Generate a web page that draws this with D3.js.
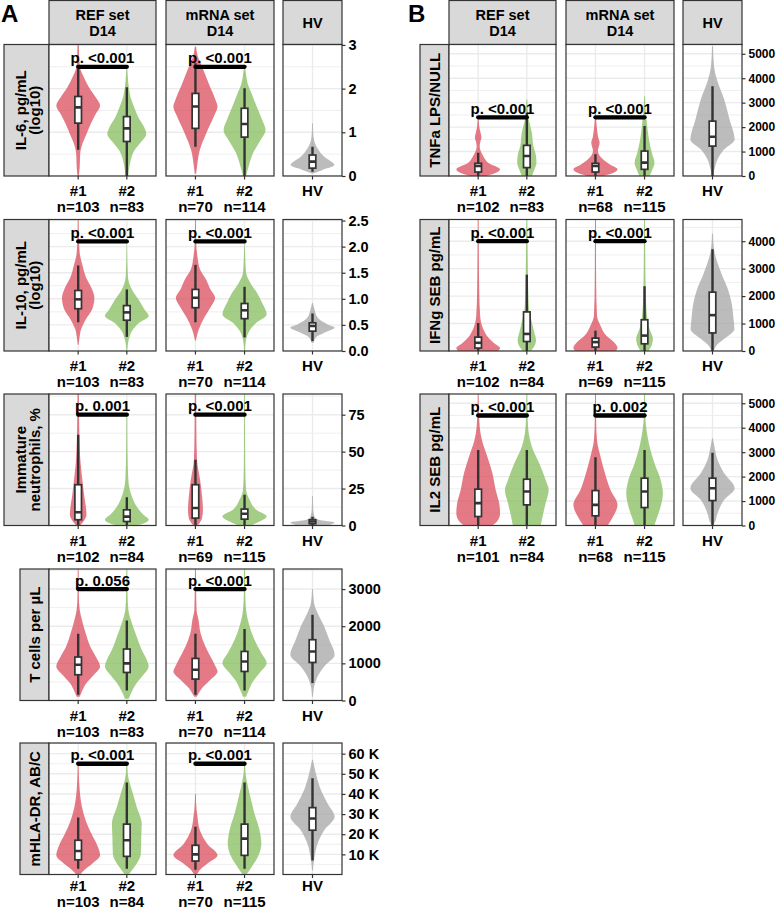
<!DOCTYPE html>
<html>
<head>
<meta charset="utf-8">
<script src="https://cdn.jsdelivr.net/npm/d3@7"></script>
<style>
body { margin: 0; background: #fff; }
text { font-family: "Liberation Sans", Arial, Helvetica, sans-serif; font-weight: bold; fill: #000; }
</style>
</head>
<body>
<div id="chart"></div>
<script>
// categories
var groups = ["#1", "#2"];
var hvGroup = ["HV"];
var facetTitles = [["REF set", "D14"], ["mRNA set", "D14"], ["HV"]];

// Violin profiles are [value, relative half width]; boxes are [low, q1, median, q3, high].
// Order in each list: REF #1, REF #2, mRNA #1, mRNA #2, HV.

// IL-6, pg/mL (log10)
var il6Ticks = [0, 1, 2, 3];
var il6N = ["n=103", "n=83", "n=70", "n=114"];
var il6P = ["p. <0.001", "p. <0.001"];
var il6PBar = 2.5;
var il6Boxes = [[0.6, 1.21, 1.57, 1.82, 2.45], [0, 0.79, 1.09, 1.36, 2.03],
                [0.67, 1.09, 1.59, 1.89, 2.58], [0, 0.89, 1.19, 1.55, 2.01],
                [0.1, 0.18, 0.33, 0.48, 0.67]];
var il6Violins = [
    [[0, 0.03], [0.2, 0.07], [0.5, 0.09], [0.73, 0.19], [0.96, 0.38], [1.19, 0.57], [1.42, 0.8], [1.61, 1.0], [1.8, 0.8], [2.03, 0.49], [2.26, 0.26], [2.43, 0.11], [2.6, 0.06], [3.0, 0.03]],
    [[0, 0.07], [0.12, 0.09], [0.35, 0.17], [0.58, 0.34], [0.77, 0.64], [0.96, 0.89], [1.11, 0.8], [1.34, 0.53], [1.57, 0.34], [1.8, 0.17], [2.03, 0.09], [2.3, 0.04], [2.45, 0.02]],
    [[0.05, 0.03], [0.21, 0.07], [0.6, 0.2], [0.98, 0.49], [1.36, 0.83], [1.59, 1.0], [1.74, 0.91], [2.12, 0.6], [2.5, 0.3], [2.75, 0.1], [2.96, 0.03]],
    [[0, 0.07], [0.21, 0.18], [0.52, 0.38], [0.82, 0.72], [1.05, 0.95], [1.28, 0.8], [1.59, 0.55], [1.89, 0.32], [2.12, 0.14], [2.35, 0.06], [2.5, 0.02]],
    [[0.06, 0.03], [0.14, 0.45], [0.25, 0.99], [0.44, 0.53], [0.63, 0.23], [0.82, 0.07], [1.0, 0.03], [1.21, 0.02]]
];

// IL-10, pg/mL (log10)
var il10Ticks = [0, 0.5, 1, 1.5, 2, 2.5];
var il10N = ["n=103", "n=83", "n=70", "n=114"];
var il10P = ["p. <0.001", "p. <0.001"];
var il10PBar = 2.1;
var il10Boxes = [[0.55, 0.81, 0.99, 1.16, 1.64], [0.27, 0.59, 0.74, 0.87, 1.18],
                 [0.55, 0.83, 1.02, 1.18, 1.65], [0.26, 0.62, 0.78, 0.91, 1.23],
                 [0.19, 0.38, 0.48, 0.54, 0.72]];
var il10Violins = [
    [[0.12, 0.02], [0.22, 0.05], [0.41, 0.13], [0.6, 0.34], [0.8, 0.64], [1.02, 0.74], [1.24, 0.57], [1.43, 0.34], [1.62, 0.21], [1.88, 0.07], [2.2, 0.03], [2.52, 0.02]],
    [[0, 0.02], [0.22, 0.09], [0.38, 0.23], [0.54, 0.57], [0.67, 1.0], [0.8, 0.8], [0.99, 0.53], [1.18, 0.23], [1.43, 0.05], [1.8, 0.02], [2.1, 0.01]],
    [[0.2, 0.02], [0.26, 0.05], [0.41, 0.15], [0.64, 0.4], [0.83, 0.67], [1.02, 0.89], [1.18, 0.68], [1.37, 0.48], [1.56, 0.21], [1.81, 0.09], [2.1, 0.03], [2.52, 0.02]],
    [[0, 0.02], [0.22, 0.07], [0.38, 0.21], [0.54, 0.53], [0.7, 1.0], [0.92, 0.8], [1.11, 0.57], [1.31, 0.26], [1.5, 0.07], [1.8, 0.03], [2.2, 0.01]],
    [[0.16, 0.05], [0.26, 0.15], [0.35, 0.53], [0.45, 1.0], [0.51, 0.68], [0.64, 0.23], [0.8, 0.09], [0.92, 0.02]]
];

// Immature neutrophils, %
var neuTicks = [0, 25, 50, 75];
var neuN = ["n=102", "n=84", "n=69", "n=115"];
var neuP = ["p. 0.001", "p. <0.001"];
var neuPBar = 75;
var neuBoxes = [[0, 3.9, 9, 27.6, 61.4], [0, 2.7, 6, 10.6, 19.2],
                [0, 5, 11.8, 27.6, 44.5], [0, 4.3, 8, 11.1, 20.8],
                [0, 1.2, 2.7, 3.9, 6]];
var neuViolins = [
    [[0, 0.09], [2.7, 0.24], [7.2, 0.38], [12.9, 0.35], [19.7, 0.28], [31, 0.19], [42.3, 0.11], [64.8, 0.05], [92, 0.03]],
    [[0, 0.36], [1.2, 0.73], [3.9, 1.0], [7.2, 0.76], [12.9, 0.45], [19.7, 0.23], [31, 0.07], [50, 0.03], [75, 0.02]],
    [[0, 0.09], [1.6, 0.18], [5, 0.3], [10.6, 0.34], [19.7, 0.3], [31, 0.21], [44.5, 0.07], [65, 0.04], [92, 0.03]],
    [[0, 0.27], [2.7, 0.68], [6.1, 1.0], [10.6, 0.53], [17.4, 0.23], [24.2, 0.07], [40, 0.03], [75, 0.02], [92, 0.02]],
    [[0, 0.68], [2, 1.0], [3.9, 0.27], [6.1, 0.09], [12, 0.03], [20, 0.02]]
];

// T cells per µL
var tcTicks = [0, 1000, 2000, 3000];
var tcN = ["n=103", "n=83", "n=70", "n=114"];
var tcP = ["p. 0.056", "p. <0.001"];
var tcPBar = 3000;
var tcBoxes = [[154, 693, 962, 1170, 1798], [270, 755, 1000, 1385, 2156],
               [154, 577, 827, 1132, 1798], [270, 782, 1051, 1321, 1924],
               [469, 1024, 1321, 1636, 2310]];
var tcViolins = [
    [[100, 0.07], [243, 0.17], [469, 0.38], [693, 0.72], [916, 1.0], [1186, 0.8], [1456, 0.55], [1817, 0.34], [2175, 0.17], [2445, 0.07], [2800, 0.03], [3540, 0.02]],
    [[50, 0.09], [243, 0.23], [469, 0.45], [693, 0.76], [916, 1.0], [1097, 0.91], [1367, 0.68], [1725, 0.45], [2086, 0.23], [2445, 0.07], [2900, 0.03], [3540, 0.02]],
    [[100, 0.05], [154, 0.11], [334, 0.3], [558, 0.68], [782, 1.0], [916, 0.91], [1186, 0.68], [1456, 0.45], [1817, 0.23], [2175, 0.14], [2445, 0.05], [3000, 0.03], [3540, 0.02]],
    [[100, 0.07], [288, 0.2], [512, 0.38], [739, 0.68], [1008, 1.0], [1278, 0.76], [1636, 0.45], [1995, 0.23], [2445, 0.07], [2900, 0.03], [3540, 0.02]],
    [[100, 0.02], [423, 0.09], [647, 0.23], [916, 0.53], [1232, 1.0], [1636, 0.76], [1995, 0.53], [2356, 0.23], [2625, 0.07], [3000, 0.02]]
];

// mHLA-DR, AB/C
var hlaTicks = [10000, 20000, 30000, 40000, 50000, 60000];
var hlaN = ["n=103", "n=84", "n=70", "n=115"];
var hlaP = ["p. <0.001", "p. <0.001"];
var hlaPBar = 55000;
var hlaBoxes = [[2800, 7300, 11700, 17000, 28300], [2800, 9000, 17000, 25000, 45700],
                [2300, 6700, 10000, 14500, 23700], [2800, 9500, 17800, 25000, 45700],
                [7000, 22000, 27800, 33200, 47800]];
var hlaViolins = [
    [[0, 0.09], [2000, 0.26], [5300, 0.64], [9500, 1.0], [14500, 0.87], [20300, 0.6], [27000, 0.34], [33700, 0.17], [42000, 0.07], [50000, 0.03], [56000, 0.02]],
    [[0, 0.09], [2000, 0.23], [5300, 0.45], [10300, 0.64], [18700, 0.66], [25300, 0.68], [33700, 0.45], [42000, 0.23], [47000, 0.09], [52000, 0.03], [56000, 0.02]],
    [[0, 0.07], [2000, 0.18], [5300, 0.53], [9500, 1.0], [15300, 0.53], [22000, 0.2], [28700, 0.09], [35300, 0.03], [40000, 0.02]],
    [[0, 0.09], [3700, 0.32], [8700, 0.6], [15300, 0.76], [22000, 0.68], [30300, 0.45], [38700, 0.26], [47000, 0.09], [52000, 0.03], [56000, 0.02]],
    [[2000, 0.02], [8700, 0.09], [15300, 0.23], [22000, 0.53], [28700, 1.0], [35300, 0.68], [42000, 0.38], [50300, 0.15], [57000, 0.02]]
];

// TNFa LPS/NULL
var tnfTicks = [0, 1000, 2000, 3000, 4000, 5000];
var tnfN = ["n=102", "n=83", "n=68", "n=115"];
var tnfP = ["p. <0.001", "p. <0.001"];
var tnfPBar = 2400;
var tnfBoxes = [[0, 163, 408, 518, 955], [0, 343, 816, 1253, 2588],
                [0, 163, 408, 518, 886], [0, 273, 547, 1020, 2041],
                [0, 1224, 1608, 2245, 3673]];
var tnfViolins = [
    [[0, 0.36], [69, 0.64], [273, 1.0], [547, 0.45], [816, 0.23], [1050, 0.1], [1224, 0.07], [1400, 0.1], [1567, 0.15], [1771, 0.11], [2000, 0.05], [2450, 0.02]],
    [[0, 0.23], [273, 0.35], [547, 0.44], [816, 0.42], [1224, 0.3], [1771, 0.23], [2314, 0.09], [2800, 0.04], [3131, 0.02]],
    [[0, 0.36], [69, 0.64], [273, 1.0], [478, 0.64], [682, 0.34], [1020, 0.11], [1363, 0.19], [1600, 0.12], [1771, 0.09], [2200, 0.04], [2588, 0.02]],
    [[0, 0.23], [273, 0.36], [547, 0.45], [955, 0.33], [1498, 0.2], [2314, 0.09], [2800, 0.04], [3265, 0.02]],
    [[0, 0.02], [273, 0.09], [682, 0.23], [1090, 0.53], [1498, 1.0], [2314, 0.77], [3131, 0.53], [3947, 0.2], [4490, 0.07], [5306, 0.02]]
];

// IFNg SEB pg/mL
var ifnTicks = [0, 1000, 2000, 3000, 4000];
var ifnN = ["n=102", "n=84", "n=69", "n=115"];
var ifnP = ["p. <0.001", "p. <0.001"];
var ifnPBar = 4000;
var ifnBoxes = [[0, 108, 299, 504, 1018], [0, 345, 622, 1424, 2781],
                [0, 144, 324, 468, 741], [0, 263, 561, 1137, 2360],
                [0, 658, 1306, 2144, 3705]];
var ifnViolins = [
    [[0, 0.91], [108, 1.0], [263, 0.76], [504, 0.45], [802, 0.23], [1281, 0.09], [2122, 0.05], [3500, 0.03], [4790, 0.02]],
    [[0, 0.18], [144, 0.32], [381, 0.42], [683, 0.34], [1043, 0.23], [1640, 0.09], [2842, 0.05], [4000, 0.03], [4790, 0.02]],
    [[0, 0.91], [108, 1.0], [324, 0.83], [561, 0.49], [921, 0.23], [1281, 0.07], [2500, 0.03], [4790, 0.02]],
    [[0, 0.18], [201, 0.32], [442, 0.38], [802, 0.23], [1281, 0.11], [2241, 0.05], [3500, 0.03], [4790, 0.02]],
    [[0, 0.05], [201, 0.18], [442, 0.53], [802, 0.99], [1162, 0.95], [1763, 0.86], [2241, 0.7], [2719, 0.45], [3201, 0.23], [3680, 0.07], [4281, 0.02]]
];

// IL2 SEB pg/mL
var il2Ticks = [0, 1000, 2000, 3000, 4000, 5000];
var il2N = ["n=101", "n=84", "n=68", "n=115"];
var il2P = ["p. <0.001", "p. 0.002"];
var il2PBar = 4500;
var il2Boxes = [[0, 367, 914, 1486, 3090], [0, 845, 1388, 1893, 3090],
                [0, 396, 845, 1429, 2790], [0, 735, 1388, 1935, 3090],
                [0, 1020, 1527, 1935, 2980]];
var il2Violins = [
    [[0, 0.64], [163, 0.86], [506, 1.0], [914, 0.96], [1457, 0.8], [2139, 0.65], [2816, 0.42], [3498, 0.17], [4041, 0.07], [4800, 0.03], [5380, 0.02]],
    [[0, 0.64], [367, 0.72], [914, 0.86], [1457, 1.0], [1865, 0.86], [2547, 0.57], [3224, 0.23], [3771, 0.09], [4300, 0.04], [5380, 0.02]],
    [[0, 0.55], [367, 0.8], [845, 1.0], [1457, 0.68], [2139, 0.43], [2816, 0.23], [3498, 0.07], [4300, 0.03], [5380, 0.02]],
    [[0, 0.45], [233, 0.53], [776, 0.73], [1322, 0.83], [1865, 0.73], [2547, 0.45], [3224, 0.23], [3906, 0.09], [4500, 0.03], [5380, 0.02]],
    [[0, 0.02], [98, 0.09], [506, 0.23], [1049, 0.53], [1527, 1.0], [2139, 0.53], [2682, 0.23], [3224, 0.09], [3567, 0.02]]
];

// layout
var width = 784, height = 910;
var panelX = [[49, 156], [166, 274], [283, 342]];
var rowTop = [44.5, 219.5, 394, 569, 743];
var panelH = 131.5;
var fills = ["#DB4E5C", "#86BE5E", "#A6A6A6"];
var lineCol = "#333333";
var gridCol = "#EBEBEB";

var intFmt = d3.format("d");
var rows = [
    {col: 0, row: 0, label: ["IL-6, pg/mL", "(log10)"], domain: [0, 3.01], ticks: il6Ticks, fmt: intFmt,
     violins: il6Violins, boxes: il6Boxes, n: il6N, p: il6P, pBar: il6PBar},
    {col: 0, row: 1, label: ["IL-10, pg/mL", "(log10)"], domain: [0, 2.52], ticks: il10Ticks, fmt: d3.format(".1f"),
     violins: il10Violins, boxes: il10Boxes, n: il10N, p: il10P, pBar: il10PBar},
    {col: 0, row: 2, label: ["Immature", "neutrophils, %"], domain: [0, 89], ticks: neuTicks, fmt: intFmt,
     violins: neuViolins, boxes: neuBoxes, n: neuN, p: neuP, pBar: neuPBar},
    {col: 0, row: 3, label: ["T cells per µL"], domain: [0, 3540], ticks: tcTicks, fmt: intFmt,
     violins: tcViolins, boxes: tcBoxes, n: tcN, p: tcP, pBar: tcPBar},
    {col: 0, row: 4, label: ["mHLA-DR, AB/C"], domain: [0, 65300], ticks: hlaTicks, fmt: function(d) { return (d / 1000) + " K"; },
     violins: hlaViolins, boxes: hlaBoxes, n: hlaN, p: hlaP, pBar: hlaPBar},
    {col: 1, row: 0, label: ["TNFa LPS/NULL"], domain: [0, 5380], ticks: tnfTicks, fmt: intFmt,
     violins: tnfViolins, boxes: tnfBoxes, n: tnfN, p: tnfP, pBar: tnfPBar},
    {col: 1, row: 1, label: ["IFNg SEB pg/mL"], domain: [0, 4790], ticks: ifnTicks, fmt: intFmt,
     violins: ifnViolins, boxes: ifnBoxes, n: ifnN, p: ifnP, pBar: ifnPBar},
    {col: 1, row: 2, label: ["IL2 SEB pg/mL"], domain: [0, 5380], ticks: il2Ticks, fmt: intFmt,
     violins: il2Violins, boxes: il2Boxes, n: il2N, p: il2P, pBar: il2PBar}
];

var svg = d3.select("#chart").append("svg")
    .attr("width", width)
    .attr("height", height);

svg.append("text").attr("x", 1).attr("y", 22).style("font-size", "24px").text("A");
svg.append("text").attr("x", 408).attr("y", 22).style("font-size", "24px").text("B");

function minor_breaks(ticks, domain) {
    var step = ticks[1] - ticks[0];
    var out = [];
    for (var v = ticks[0] - step / 2; v <= domain[1]; v += step) {
        if (v >= domain[0]) out.push(v);
    }
    return out;
}

function draw_row(row, ri) {
    var g = svg.append("g").attr("transform", "translate(" + (row.col * 400) + ",0)");
    var top = rowTop[row.row];
    var bottom = top + panelH;
    var y = d3.scaleLinear().domain(row.domain).range([bottom, top]);

    // row strip on the left
    var twoLines = row.label.length > 1;
    var stripL = twoLines ? 4 : 20;
    g.append("rect")
        .attr("x", stripL).attr("y", top)
        .attr("width", panelX[0][0] - stripL).attr("height", panelH)
        .attr("fill", "#D9D9D9").attr("stroke", lineCol).attr("stroke-width", 1.2);
    var cy = (top + bottom) / 2;
    row.label.forEach(function(line, li) {
        var bx = twoLines ? 25.5 + li * 14.5 : 40;
        g.append("text")
            .attr("transform", "translate(" + bx + "," + cy + ") rotate(-90)")
            .attr("text-anchor", "middle")
            .style("font-size", "15px")
            .text(line);
    });

    facetTitles.forEach(function(title, fi) {
        var cats = fi < 2 ? groups : hvGroup;
        var x = d3.scalePoint().domain(cats).range(panelX[fi]).padding(0.6);
        var half = 0.45 * x.step();
        var x0 = panelX[fi][0], x1 = panelX[fi][1];

        // facet header on the first row
        if (row.row === 0) {
            g.append("rect")
                .attr("x", x0).attr("y", 0.5)
                .attr("width", x1 - x0).attr("height", top - 0.5)
                .attr("fill", "#D9D9D9").attr("stroke", lineCol).attr("stroke-width", 1.2);
            title.forEach(function(line, li) {
                g.append("text")
                    .attr("x", (x0 + x1) / 2)
                    .attr("y", title.length > 1 ? 20 + li * 15.5 : 27.5)
                    .attr("text-anchor", "middle")
                    .style("font-size", "14.5px")
                    .text(line);
            });
        }

        var clipId = "clip-" + ri + "-" + fi;
        g.append("clipPath").attr("id", clipId)
            .append("rect")
            .attr("x", x0).attr("y", top)
            .attr("width", x1 - x0).attr("height", panelH);

        g.append("rect")
            .attr("x", x0).attr("y", top)
            .attr("width", x1 - x0).attr("height", panelH)
            .attr("fill", "#fff");

        var inner = g.append("g").attr("clip-path", "url(#" + clipId + ")");

        // grid
        inner.selectAll(".minor")
            .data(minor_breaks(row.ticks, row.domain))
            .enter().append("line")
            .attr("x1", x0).attr("x2", x1)
            .attr("y1", y).attr("y2", y)
            .attr("stroke", gridCol).attr("stroke-width", 0.8);
        inner.selectAll(".major")
            .data(row.ticks)
            .enter().append("line")
            .attr("x1", x0).attr("x2", x1)
            .attr("y1", y).attr("y2", y)
            .attr("stroke", gridCol).attr("stroke-width", 1.4);
        inner.selectAll(".vgrid")
            .data(cats)
            .enter().append("line")
            .attr("x1", x).attr("x2", x)
            .attr("y1", top).attr("y2", bottom)
            .attr("stroke", gridCol).attr("stroke-width", 1.4);

        // violins and boxes
        cats.forEach(function(c, ci) {
            var k = fi < 2 ? fi * 2 + ci : 4;
            var cx = x(c);
            var colour = fi < 2 ? fills[ci] : fills[2];
            var area = d3.area()
                .curve(d3.curveMonotoneY)
                .y(function(d) { return y(d[0]); })
                .x0(function(d) { return cx - d[1] * half; })
                .x1(function(d) { return cx + d[1] * half; });
            inner.append("path")
                .attr("d", area(row.violins[k]))
                .attr("fill", colour)
                .attr("fill-opacity", 0.75);

            var b = row.boxes[k];
            var bw = 3.3;
            inner.append("line")
                .attr("x1", cx).attr("x2", cx)
                .attr("y1", y(b[0])).attr("y2", y(b[4]))
                .attr("stroke", lineCol).attr("stroke-width", 2.4);
            inner.append("rect")
                .attr("x", cx - bw).attr("y", y(b[3]))
                .attr("width", bw * 2).attr("height", y(b[1]) - y(b[3]))
                .attr("fill", "#fff").attr("stroke", lineCol).attr("stroke-width", 1.7);
            inner.append("line")
                .attr("x1", cx - bw).attr("x2", cx + bw)
                .attr("y1", y(b[2])).attr("y2", y(b[2]))
                .attr("stroke", lineCol).attr("stroke-width", 2.6);
        });

        // p-value bracket
        if (fi < 2) {
            inner.append("line")
                .attr("x1", x(groups[0])).attr("x2", x(groups[1]))
                .attr("y1", y(row.pBar)).attr("y2", y(row.pBar))
                .attr("stroke", "#000").attr("stroke-width", 4.3)
                .attr("stroke-linecap", "round");
            g.append("text")
                .attr("x", (x(groups[0]) + x(groups[1])) / 2)
                .attr("y", y(row.pBar) - 3.5)
                .attr("text-anchor", "middle")
                .style("font-size", "15px")
                .text(row.p[fi]);
        }

        g.append("rect")
            .attr("x", x0).attr("y", top)
            .attr("width", x1 - x0).attr("height", panelH)
            .attr("fill", "none").attr("stroke", lineCol).attr("stroke-width", 1.2);

        // x axis
        var nY = Math.min(36, height - 3.5 - bottom);
        var xl = g.selectAll(".xl" + fi)
            .data(cats)
            .enter().append("g")
            .attr("transform", function(d) { return "translate(" + x(d) + "," + bottom + ")"; });
        xl.append("line")
            .attr("y1", 0).attr("y2", 3.5)
            .attr("stroke", lineCol).attr("stroke-width", 1.2);
        xl.append("text")
            .attr("y", nY - 16)
            .attr("text-anchor", "middle")
            .style("font-size", "15px")
            .text(function(d) { return d; });
        if (fi < 2) {
            xl.append("text")
                .attr("y", nY)
                .attr("text-anchor", "middle")
                .style("font-size", "15px")
                .text(function(d, i) { return row.n[fi * 2 + i]; });
        }

        // y axis on the right of the HV panel
        if (fi === 2) {
            var yAxis = d3.axisRight(y)
                .tickValues(row.ticks)
                .tickFormat(row.fmt)
                .tickSize(3.5)
                .tickPadding(3);
            var ax = g.append("g")
                .attr("transform", "translate(" + x1 + ",0)")
                .call(yAxis);
            ax.select(".domain").remove();
            ax.selectAll(".tick line").attr("stroke", lineCol).attr("stroke-width", 1.2);
            ax.selectAll(".tick text")
                .style("font-size", row.col === 0 ? "14.5px" : "12px")
                .style("font-family", "'Liberation Sans', Arial, sans-serif")
                .style("font-weight", "bold")
                .attr("fill", "#000");
        }
    });
}

rows.forEach(draw_row);
</script>
</body>
</html>
